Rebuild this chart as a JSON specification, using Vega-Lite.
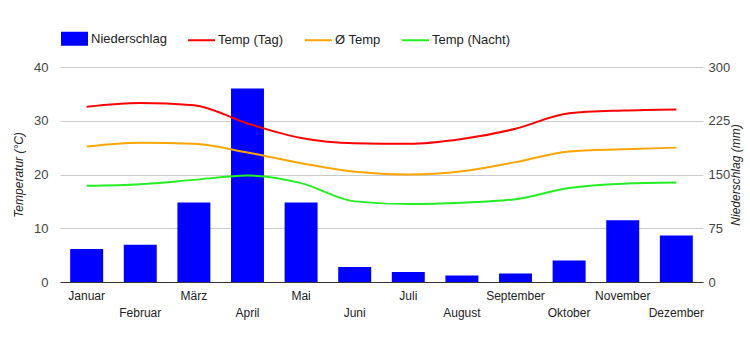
{
  "$schema": "https://vega.github.io/schema/vega-lite/v6.json",
  "width": 643,
  "height": 215,
  "autosize": {"type": "none"},
  "padding": {"left": 60, "top": 67, "right": 47, "bottom": 68},
  "background": "white",
  "config": {
    "font": "Liberation Sans",
    "view": {"stroke": null},
    "axis": {"labelFont": "Liberation Sans", "titleFont": "Liberation Sans", "labelColor": "#444", "titleColor": "#222", "labelFontSize": 13, "titleFontSize": 12, "titleFontStyle": "italic", "titleFontWeight": "normal", "ticks": false}
  },
  "data": {"values": [
    {"Monat": "Januar", "Niederschlag": 46, "Temp (Tag)": 32.6, "Ø Temp": 25.2, "Temp (Nacht)": 17.9},
    {"Monat": "Februar", "Niederschlag": 52, "Temp (Tag)": 33.3, "Ø Temp": 25.9, "Temp (Nacht)": 18.2},
    {"Monat": "März", "Niederschlag": 111, "Temp (Tag)": 32.9, "Ø Temp": 25.7, "Temp (Nacht)": 19.0},
    {"Monat": "April", "Niederschlag": 270, "Temp (Tag)": 29.5, "Ø Temp": 24.1, "Temp (Nacht)": 19.8},
    {"Monat": "Mai", "Niederschlag": 111, "Temp (Tag)": 26.8, "Ø Temp": 22.1, "Temp (Nacht)": 18.4},
    {"Monat": "Juni", "Niederschlag": 21, "Temp (Tag)": 25.8, "Ø Temp": 20.5, "Temp (Nacht)": 15.0},
    {"Monat": "Juli", "Niederschlag": 14, "Temp (Tag)": 25.7, "Ø Temp": 20.0, "Temp (Nacht)": 14.5},
    {"Monat": "August", "Niederschlag": 9, "Temp (Tag)": 26.6, "Ø Temp": 20.6, "Temp (Nacht)": 14.75},
    {"Monat": "September", "Niederschlag": 12, "Temp (Tag)": 28.5, "Ø Temp": 22.3, "Temp (Nacht)": 15.4},
    {"Monat": "Oktober", "Niederschlag": 30, "Temp (Tag)": 31.4, "Ø Temp": 24.3, "Temp (Nacht)": 17.5},
    {"Monat": "November", "Niederschlag": 86, "Temp (Tag)": 31.9, "Ø Temp": 24.7, "Temp (Nacht)": 18.3},
    {"Monat": "Dezember", "Niederschlag": 65, "Temp (Tag)": 32.1, "Ø Temp": 25.0, "Temp (Nacht)": 18.5}
  ]},
  "encoding": {
    "x": {
      "field": "Monat", "type": "nominal", "sort": null,
      "scale": {"paddingInner": 0.385, "paddingOuter": 0.19},
      "axis": {
        "title": null, "labelAngle": 0, "labelPadding": 8, "labelLineHeight": 17,
        "labelFontSize": 12, "labelColor": "#222",
        "labelExpr": "indexof(['Februar','April','Juni','August','Oktober','Dezember'], datum.value) >= 0 ? ['', datum.value] : datum.value",
        "domainColor": "#333", "grid": false, "labelOverlap": false, "labelBaseline": "top"
      }
    }
  },
  "layer": [
    {
      "mark": {"type": "bar", "color": "#0000ff"},
      "encoding": {
        "y": {"field": "Niederschlag", "type": "quantitative",
          "scale": {"domain": [0, 300]},
          "axis": {"orient": "right", "title": "Niederschlag (mm)", "values": [0, 75, 150, 225, 300], "grid": false, "domain": false, "labelPadding": 5, "titleAngle": -90, "titlePadding": 13}},
        "color": {"datum": "Niederschlag", "type": "nominal",
          "scale": {"domain": ["Niederschlag", "Temp (Tag)", "Ø Temp", "Temp (Nacht)"], "range": ["#0000ff", "#ff0000", "#ffa500", "#22ee22"]},
          "legend": {
            "orient": "top", "direction": "horizontal", "title": null, "offset": 18,
            "labelFontSize": 13, "labelColor": "#222", "labelFont": "Liberation Sans", "labelOffset": 2, "columnPadding": 17,
            "symbolSize": 729, "symbolStrokeWidth": 2,
            "encode": {"symbols": {"update": {
              "shape": {"signal": "datum.label === 'Niederschlag' ? 'M-0.926,-0.444H0.926V0.444H-0.926Z' : 'M-1,0H1'"},
              "fill": {"signal": "datum.label === 'Niederschlag' ? scale('color', datum.value) : 'transparent'"},
              "stroke": {"signal": "scale('color', datum.value)"},
              "strokeWidth": {"value": 2},
              "size": {"value": 729},
              "opacity": {"value": 1}
            }}}
          }}
      }
    },
    {
      "transform": [{"fold": ["Temp (Tag)", "Ø Temp", "Temp (Nacht)"], "as": ["Reihe", "Temp"]}],
      "mark": {"type": "line", "interpolate": "monotone", "strokeWidth": 2},
      "encoding": {
        "y": {"field": "Temp", "type": "quantitative",
          "scale": {"domain": [0, 40]},
          "axis": {"orient": "left", "title": "Temperatur (°C)", "values": [0, 10, 20, 30, 40], "grid": true, "gridColor": "#cccccc", "domain": false, "labelPadding": 12, "titlePadding": 8}},
        "color": {"field": "Reihe", "type": "nominal", "legend": {"title": null}}
      }
    }
  ],
  "resolve": {"scale": {"y": "independent"}}
}
